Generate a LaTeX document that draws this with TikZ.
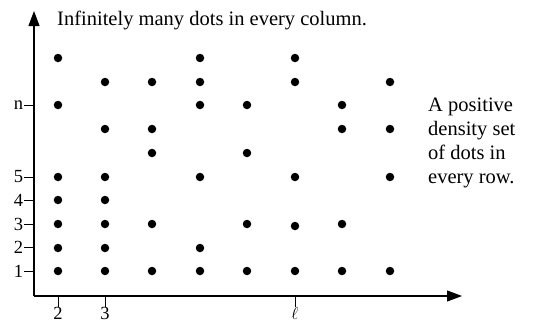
\documentclass[tikz,border=0pt]{standalone}
\usepackage{fontspec}
\setmainfont{Liberation Serif}
\usetikzlibrary{arrows.meta}
\begin{document}
\begin{tikzpicture}[x=1pt,y=-1pt,
  dot/.style={circle,fill=black,inner sep=0pt,minimum size=8.5pt},
  axis/.style={line width=1.1pt,-{Triangle[length=15pt,width=11pt]}},
  tick/.style={line width=0.9pt},
  lab/.style={font=\fontsize{18.5}{18.5}\selectfont,inner sep=1pt},
  txt/.style={font=\fontsize{20.5}{24}\selectfont,inner sep=0pt}]
\useasboundingbox (0,0) rectangle (533,324);
% axes
\coordinate (O) at (34,296);
\coordinate (ytop) at (34,11);
\coordinate (xend) at (462,296);
\draw[axis] (O) -- (ytop);
\draw[axis] (O) -- (xend);
% y ticks
\foreach \nm/\yy/\t in {y1/271/1,y2/247/2,y3/224/3,y4/200/4,y5/177/5,yn/105/n}{
  \coordinate (\nm) at (34,\yy);
  \draw[tick] (\nm) -- ++(-10,0) node[lab,anchor=east,inner sep=0.5pt] (l\nm) {\t};
}
% x ticks
\foreach \nm/\xx/\t in {x2/58/2,x3/105/3,xl/295/$\ell$}{
  \coordinate (\nm) at (\xx,296);
  \draw[tick] (\nm) -- ++(0,11) node[lab,anchor=north,inner sep=0pt] (l\nm) {\t};
}
% dots
\foreach \xx/\ys [count=\i] in {
  58/{58,105,177,200,224,248,271},
  105/{82,129,177,200,224,248,271},
  152/{82,129,153,224,271},
  200/{58,82,105,177,248,271},
  247/{105,153,224,271},
  295/{58,82,177,226,271},
  342/{105,129,224,271},
  390/{82,129,177,271}}{
  \foreach \yy [count=\j] in \ys {
    \node[dot] (d\i-\j) at (\xx,\yy) {};
  }
}
% texts
\node[txt,anchor=base west] (top) at (57,25) {Infinitely many dots in every column.};
\node[txt,anchor=base west,align=left] (side) at (428,183) {A positive\\density set\\of dots in\\every row.};
\end{tikzpicture}
\end{document}
